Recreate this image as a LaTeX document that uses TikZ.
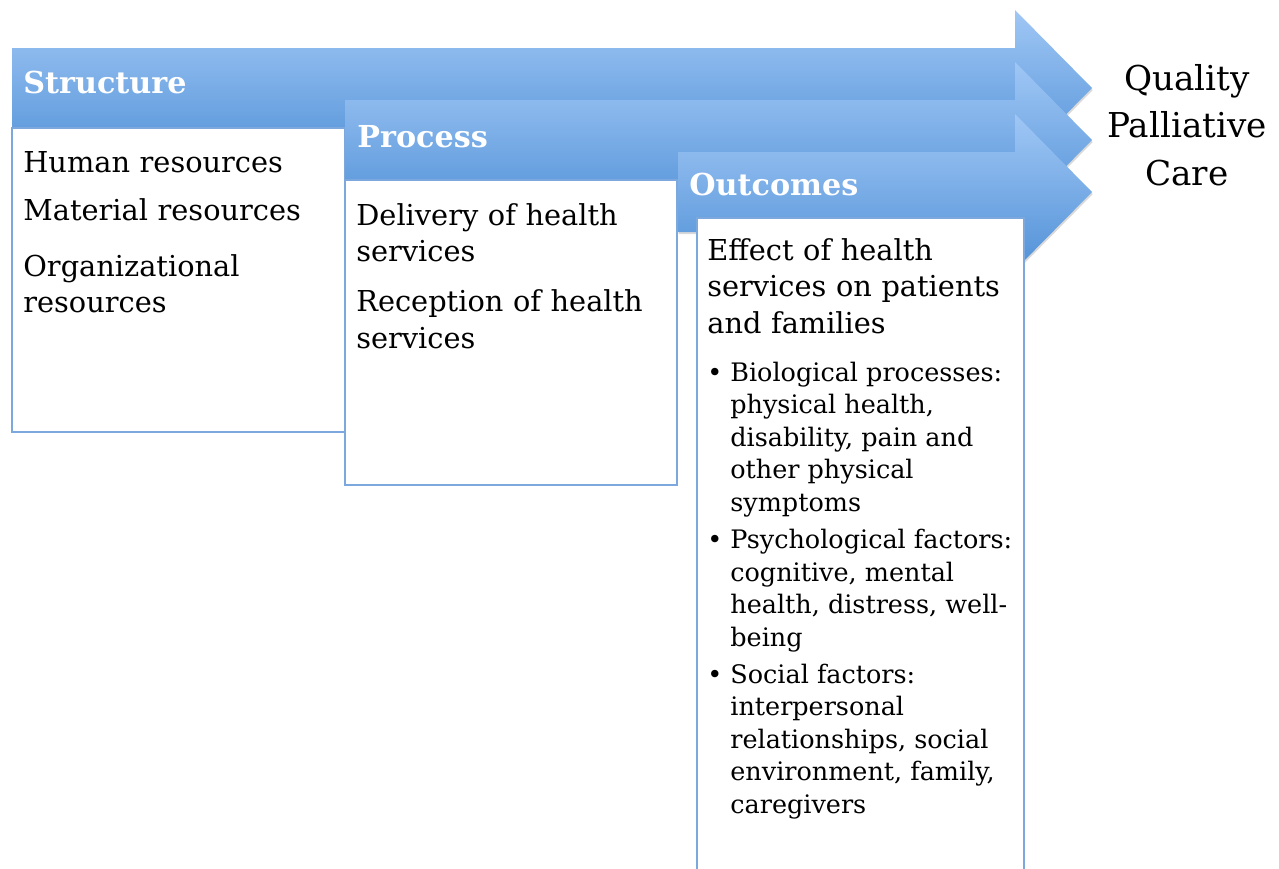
\documentclass[tikz,border=0pt]{standalone}
\usepackage{fontspec}
\setmainfont{DejaVu Serif}
\usepackage{tikz}
\usetikzlibrary{shadows}
\usepackage{xcolor}
\definecolor{bandtop}{RGB}{160,199,245}
\definecolor{bandbot}{RGB}{81,145,215}
\definecolor{boxline}{RGB}{125,168,222}
\tikzset{
  band/.style     = {top color=bandtop, bottom color=bandbot,
                     drop shadow={shadow xshift=0.4pt, shadow yshift=-1.2pt,
                                  opacity=0.3}},
  box/.style      = {draw=boxline, line width=0.9pt, fill=white},
  head/.style     = {anchor=base west, inner sep=0pt, text=white,
                     font=\bfseries\fontsize{17.2}{20}\selectfont},
  boxtext/.style  = {anchor=base west, inner sep=0pt, text width=6.2cm,
                     align=left, font=\fontsize{16.4}{21.05}\selectfont},
  itemtext/.style = {anchor=base west, inner sep=0pt,
                     font=\fontsize{14.5}{18.5}\selectfont},
}
% band arrow: #1 = left end, #2 = middle line
\newcommand{\bandarrow}[2]{%
  \shade[band] (#1,#2-40) -- (1015,#2-40) -- (1015,#2-78) -- (1092,#2)
    -- (1015,#2+78) -- (1015,#2+40) -- (#1,#2+40) -- cycle;}
\newcommand{\bul}{\textbullet}

\begin{document}
\begin{tikzpicture}[x=0.02cm,y=-0.02cm]
\useasboundingbox (0,0) rectangle (1279,869);
% ---------- Structure ----------
\bandarrow{12}{88}
\node[head] (structure) at (23,93) {Structure};
\draw[box] (12,128) rectangle (345,432);
\node[boxtext] (resources) at (23,172)
  {Human resources\\[6.3pt]
   Material resources\\[10.8pt]
   Organizational\\
   resources};
% ---------- Process ----------
\bandarrow{345}{140}
\node[head] (process) at (357,147) {Process};
\draw[box] (345,180) rectangle (677,485);
\node[boxtext] (services) at (356,225)
  {Delivery of health\\
   services\\[7.4pt]
   Reception of health\\
   services};
% ---------- Outcomes ----------
\bandarrow{678}{192}
\node[head] (outcomes) at (689,195) {Outcomes};
\fill[white] (697,218) rectangle (1024,869);
\draw[box] (697,869) |- (1024,218) -- (1024,869);
\node[boxtext] (effect) at (707,260)
  {Effect of health\\
   services on patients\\
   and families};
\node[itemtext] (factors) at (707,381)
  {\begin{tabular}[t]{@{}p{13.1pt}@{}l@{}}
   \bul & Biological processes:\\
        & physical health,\\
        & disability, pain and\\
        & other physical\\
        & symptoms\\[3pt]
   \bul & Psychological factors:\\
        & cognitive, mental\\
        & health, distress, well-\\
        & being\\[2.6pt]
   \bul & Social factors:\\
        & interpersonal\\
        & relationships, social\\
        & environment, family,\\
        & caregivers
   \end{tabular}};
% ---------- goal ----------
\node[anchor=base, inner sep=0pt, text width=3.6cm, align=center,
      font=\fontsize{19.5}{27.3}\selectfont] (goal) at (1187,90)
  {Quality\\ Palliative\\ Care};
\end{tikzpicture}
\end{document}
